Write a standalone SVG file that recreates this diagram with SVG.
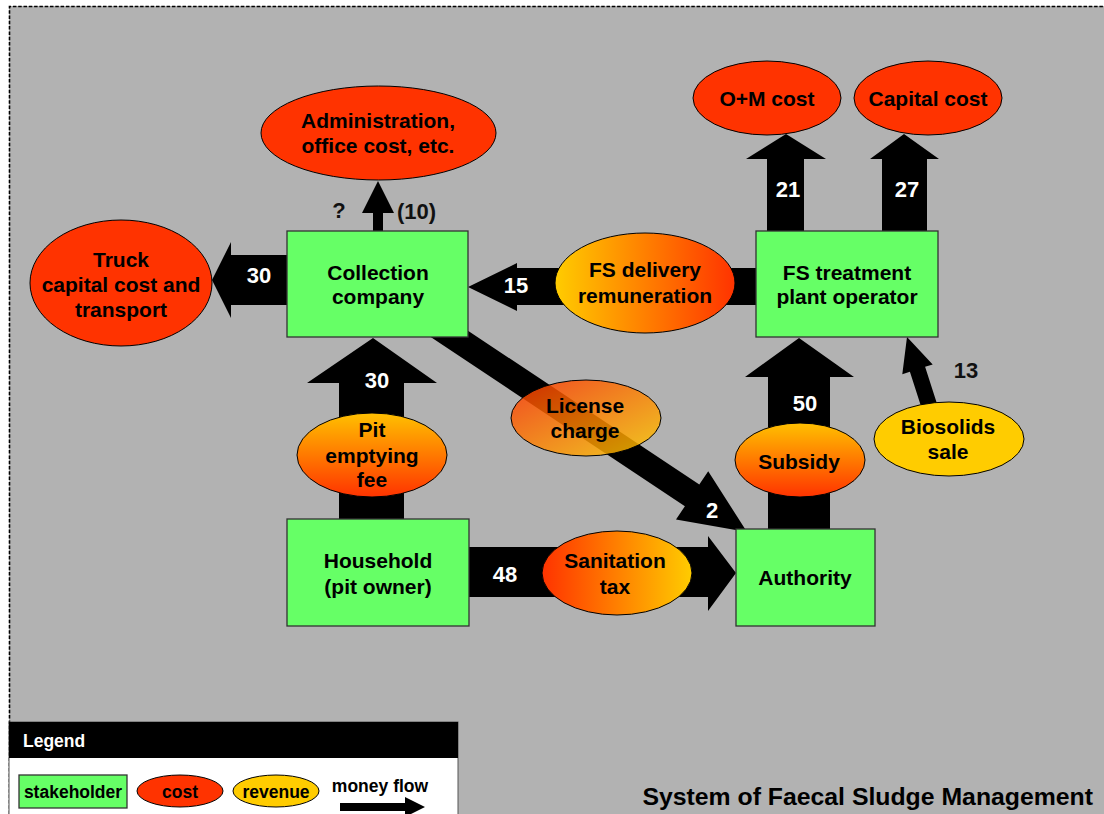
<svg xmlns="http://www.w3.org/2000/svg" width="1104" height="814" viewBox="0 0 1104 814">
<defs>
<style>
text{font-family:"Liberation Sans",Arial,Helvetica,sans-serif;font-weight:bold;text-anchor:middle;fill:#000}
.t{font-size:21px}
.num{font-size:22px;fill:#fff}
.dk{font-size:22px;fill:#111}
.lg{font-size:17.5px}
.box{fill:#66ff66;stroke:#333;stroke-width:1.3}
.cost{fill:#ff3300;stroke:#000;stroke-width:1}
.rev{stroke:#000;stroke-width:1}
.arr{fill:#000}
</style>
<linearGradient id="gH_yr" x1="0" y1="0" x2="1" y2="0"><stop offset="0" stop-color="#ffcc00"/><stop offset="1" stop-color="#ff3300"/></linearGradient>
<linearGradient id="gH_ry" x1="0" y1="0" x2="1" y2="0"><stop offset="0" stop-color="#ff3300"/><stop offset="1" stop-color="#ffcc00"/></linearGradient>
<linearGradient id="gV_yr" x1="0" y1="0" x2="0" y2="1"><stop offset="0" stop-color="#ffc000"/><stop offset="1" stop-color="#ff3300"/></linearGradient>
<linearGradient id="gD_ry" x1="0" y1="0" x2="1" y2="1"><stop offset="0" stop-color="#ff3300"/><stop offset="1" stop-color="#ffcc00"/></linearGradient>
</defs>

<rect x="0" y="0" width="1104" height="814" fill="#fff"/>
<rect x="9" y="6" width="1100" height="812" fill="#b2b2b2"/>
<path d="M9.5 814 V6.5 H1104" fill="none" stroke="#000" stroke-width="1.6" stroke-dasharray="3.5 1.8"/>

<g id="connectors">
  <!-- Collection -> Administration -->
  <polygon class="arr" points="373,232 373,213 362,213 378,181 394,213 383,213 383,232"/>
  <text class="dk" x="339" y="218">?</text>
  <text class="dk" x="397" y="219" style="text-anchor:start">(10)</text>
  <!-- Collection -> Truck -->
  <polygon class="arr" points="288,255 231,255 231,242 212,280 231,318 231,305 288,305"/>
  <text class="num" x="259" y="283">30</text>
  <!-- FS treatment -> Collection -->
  <polygon class="arr" points="757,268 517,268 517,263 468,287 517,311 517,305 757,305"/>
  <text class="num" x="516" y="293">15</text>
  <!-- Household -> Collection -->
  <polygon class="arr" points="339,520 339,383 307,383 373,338 437,383 404,383 404,520"/>
  <text class="num" x="377" y="388">30</text>
  <!-- Collection -> Authority (license) -->
  <polygon class="arr" points="422.8,331.8 684.9,506.2 676,519.5 747,532 708.2,471.3 699.3,484.6 437.2,310.2"/>
  <text class="num" x="712" y="518">2</text>
  <!-- Household -> Authority -->
  <polygon class="arr" points="468,547 708,547 708,536 736,573 708,611 708,597 468,597"/>
  <text class="num" x="505" y="582">48</text>
  <!-- Authority -> FS treatment -->
  <polygon class="arr" points="768,530 768,377 745,377 799,338 854,377 830,377 830,530"/>
  <text class="num" x="805" y="411">50</text>
  <!-- FS -> O+M -->
  <polygon class="arr" points="767,232 767,159 746,159 786,134 826,159 804,159 804,232"/>
  <text class="num" x="788" y="197">21</text>
  <!-- FS -> Capital -->
  <polygon class="arr" points="882,232 882,159 870,159 904,134 939,159 927,159 927,232"/>
  <text class="num" x="907" y="197">27</text>
  <!-- Biosolids -> FS -->
  <polygon class="arr" points="936.6,402.5 925.1,366.8 932.7,364.4 907,337 902.3,374.2 909.9,371.8 921.4,407.5"/>
  <text class="dk" x="966" y="378">13</text>
</g>

<g id="collection">
  <rect class="box" x="287" y="231" width="181" height="106"/>
  <text class="t" x="378" y="280">Collection</text>
  <text class="t" x="378" y="304">company</text>
</g>
<g id="fs-treatment">
  <rect class="box" x="756" y="231" width="182" height="106"/>
  <text class="t" x="847" y="280">FS treatment</text>
  <text class="t" x="847" y="304">plant operator</text>
</g>
<g id="household">
  <rect class="box" x="287" y="519" width="182" height="107"/>
  <text class="t" x="378" y="568">Household</text>
  <text class="t" x="378" y="594">(pit owner)</text>
</g>
<g id="authority">
  <rect class="box" x="736" y="529" width="139" height="97"/>
  <text class="t" x="805" y="585">Authority</text>
</g>

<g id="administration">
  <ellipse class="cost" cx="378.5" cy="133" rx="117.5" ry="47"/>
  <text class="t" x="378" y="128">Administration,</text>
  <text class="t" x="378" y="153">office cost, etc.</text>
</g>
<g id="truck">
  <ellipse class="cost" cx="121" cy="283" rx="91" ry="63"/>
  <text class="t" x="121" y="267">Truck</text>
  <text class="t" x="121" y="292">capital cost and</text>
  <text class="t" x="121" y="317">transport</text>
</g>
<g id="om-cost">
  <ellipse class="cost" cx="767" cy="98" rx="74" ry="37"/>
  <text class="t" x="767" y="106">O+M cost</text>
</g>
<g id="capital-cost">
  <ellipse class="cost" cx="928" cy="98" rx="74" ry="37"/>
  <text class="t" x="928" y="106">Capital cost</text>
</g>

<g id="fs-delivery">
  <ellipse class="rev" cx="645" cy="283" rx="90" ry="50" fill="url(#gH_yr)"/>
  <text class="t" x="645" y="277">FS delivery</text>
  <text class="t" x="645" y="303">remuneration</text>
</g>
<g id="pit-emptying">
  <ellipse class="rev" cx="372" cy="455" rx="75" ry="42" fill="url(#gV_yr)"/>
  <text class="t" x="372" y="437">Pit</text>
  <text class="t" x="372" y="463">emptying</text>
  <text class="t" x="372" y="487">fee</text>
</g>
<g id="license">
  <ellipse class="rev" cx="586" cy="418" rx="75" ry="38" fill="url(#gD_ry)" fill-opacity="0.82"/>
  <text class="t" x="585" y="413">License</text>
  <text class="t" x="585" y="438">charge</text>
</g>
<g id="sanitation">
  <ellipse class="rev" cx="617" cy="573" rx="75" ry="42" fill="url(#gH_ry)"/>
  <text class="t" x="615" y="568">Sanitation</text>
  <text class="t" x="615" y="594">tax</text>
</g>
<g id="subsidy">
  <ellipse class="rev" cx="800" cy="460" rx="65" ry="37" fill="url(#gV_yr)"/>
  <text class="t" x="799" y="469">Subsidy</text>
</g>
<g id="biosolids">
  <ellipse class="rev" cx="949" cy="439" rx="75" ry="37" fill="#ffcc00"/>
  <text class="t" x="948" y="434">Biosolids</text>
  <text class="t" x="948" y="459">sale</text>
</g>

<g id="legend">
  <rect x="9" y="722" width="449" height="100" fill="#fff" stroke="#555" stroke-width="1"/>
  <rect x="9" y="722" width="449" height="36" fill="#000"/>
  <text class="lg" x="23" y="747" style="text-anchor:start;fill:#fff">Legend</text>
  <rect class="box" x="19" y="775" width="108" height="33"/>
  <text class="lg" x="73" y="798">stakeholder</text>
  <ellipse class="cost" cx="180" cy="791" rx="43" ry="16"/>
  <text class="lg" x="180" y="798">cost</text>
  <ellipse class="rev" cx="276" cy="791" rx="43" ry="16" fill="#ffcc00"/>
  <text class="lg" x="276" y="798">revenue</text>
  <text class="lg" x="380" y="792">money flow</text>
  <polygon class="arr" points="340,803 405,803 405,797 425,807 405,817 405,811 340,811"/>
</g>

<text id="title" x="1093" y="805" style="font-size:24.8px;text-anchor:end">System of Faecal Sludge Management</text>
</svg>
